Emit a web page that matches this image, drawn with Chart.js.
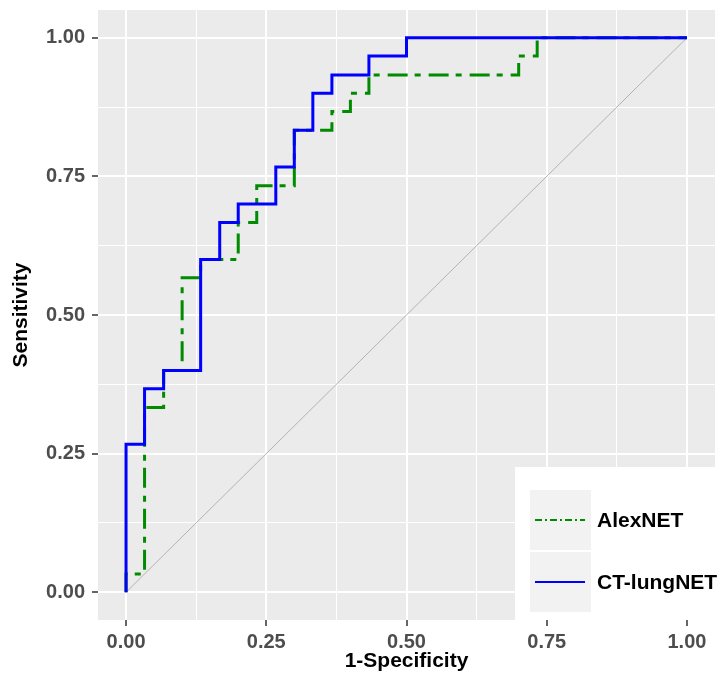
<!DOCTYPE html>
<html>
<head>
<meta charset="utf-8">
<script src="https://cdn.jsdelivr.net/npm/chart.js@4/dist/chart.umd.min.js"></script>
<style>
  body { margin: 0; background: #fff; }
</style>
</head>
<body>
<canvas id="rocChart" width="718" height="683"></canvas>
<script>
// ROC vertices (30 positives / 30 negatives)
const alexFpr = [0, 0, 0.033, 0.033, 0.067, 0.067, 0.1, 0.1, 0.133, 0.133, 0.2, 0.2, 0.233, 0.233, 0.3, 0.3, 0.367, 0.367, 0.4, 0.4, 0.433, 0.433, 0.7, 0.7, 0.733, 0.733, 1];
const alexTpr = [0, 0.033, 0.033, 0.333, 0.333, 0.4, 0.4, 0.567, 0.567, 0.6, 0.6, 0.667, 0.667, 0.733, 0.733, 0.833, 0.833, 0.867, 0.867, 0.9, 0.9, 0.933, 0.933, 0.967, 0.967, 1, 1];

const lungFpr = [0, 0, 0.033, 0.033, 0.067, 0.067, 0.133, 0.133, 0.167, 0.167, 0.2, 0.2, 0.267, 0.267, 0.3, 0.3, 0.333, 0.333, 0.367, 0.367, 0.433, 0.433, 0.5, 0.5, 1];
const lungTpr = [0, 0.267, 0.267, 0.367, 0.367, 0.4, 0.4, 0.6, 0.6, 0.667, 0.667, 0.7, 0.7, 0.767, 0.767, 0.833, 0.833, 0.9, 0.9, 0.933, 0.933, 0.967, 0.967, 1, 1];

const chanceX = [0, 1];
const chanceY = [0, 1];

const majorTicks = [0, 0.25, 0.5, 0.75, 1];
const minorTicks = [0.125, 0.375, 0.625, 0.875];

const seriesNames = ["AlexNET", "CT-lungNET"];
const seriesColors = ["#008B00", "#0000FF"];

const FONT = "'Liberation Sans', Arial, sans-serif";

function toPoints(xs, ys) {
  return xs.map((x, i) => ({ x: x, y: ys[i] }));
}

function isMajor(v) {
  return majorTicks.some(m => Math.abs(m - v) < 1e-9);
}

function setTicks(scale) {
  scale.ticks = majorTicks.concat(minorTicks).sort((a, b) => a - b).map(v => ({ value: v }));
}

// no extra room for edge labels, the panel is fixed
function fixPadding(s) {
  s.paddingTop = 0;
  s.paddingBottom = 0;
  s.paddingLeft = 0;
  s.paddingRight = 0;
}

// grey panel behind the grid
const panelBg = {
  id: "panelBg",
  beforeDraw(chart) {
    const a = chart.chartArea;
    const ctx = chart.ctx;
    ctx.save();
    ctx.fillStyle = "#EBEBEB";
    ctx.fillRect(a.left, a.top, a.right - a.left, a.bottom - a.top);
    ctx.restore();
  }
};

// ggplot style legend sitting inside the panel
const insideLegend = {
  id: "insideLegend",
  afterDraw(chart) {
    const ctx = chart.ctx;
    ctx.save();
    ctx.fillStyle = "#FFFFFF";
    ctx.fillRect(515, 467, 203, 153);

    const rows = [
      { y: 490, dash: [7, 3, 2, 3], width: 2 },
      { y: 552, dash: [], width: 2 }
    ];
    rows.forEach((r, i) => {
      ctx.fillStyle = "#F2F2F2";
      ctx.fillRect(530, r.y, 61, 60);
      ctx.strokeStyle = seriesColors[i];
      ctx.lineWidth = r.width;
      ctx.setLineDash(r.dash);
      ctx.beginPath();
      ctx.moveTo(535, r.y + 30);
      ctx.lineTo(585, r.y + 30);
      ctx.stroke();
      ctx.setLineDash([]);
      ctx.fillStyle = "#000000";
      ctx.font = "bold 21px " + FONT;
      ctx.textBaseline = "middle";
      ctx.textAlign = "left";
      ctx.fillText(seriesNames[i], 597, r.y + 31);
    });
    ctx.restore();
  }
};

const gridOpts = {
  color: "#FFFFFF",
  lineWidth: c => isMajor(c.tick.value) ? 2 : 1,
  tickColor: c => isMajor(c.tick.value) ? "#333333" : "rgba(0,0,0,0)",
  tickWidth: 1.5,
  tickLength: 6
};

const tickOpts = {
  color: "#4D4D4D",
  font: { family: FONT, size: 20, weight: "bold" },
  autoSkip: false,
  maxRotation: 0,
  callback: v => isMajor(v) ? v.toFixed(2) : ""
};

new Chart(document.getElementById("rocChart"), {
  type: "line",
  data: {
    datasets: [
      {
        label: "chance",
        data: toPoints(chanceX, chanceY),
        borderColor: "#B3B3B3",
        borderWidth: 1,
        pointRadius: 0,
        order: 2
      },
      {
        label: seriesNames[0],
        data: toPoints(alexFpr, alexTpr),
        borderColor: seriesColors[0],
        borderWidth: 3,
        borderDash: [20, 7, 6, 8],
        borderCapStyle: "butt",
        pointRadius: 0,
        order: 1
      },
      {
        label: seriesNames[1],
        data: toPoints(lungFpr, lungTpr),
        borderColor: seriesColors[1],
        borderWidth: 3,
        pointRadius: 0,
        order: 0
      }
    ]
  },
  options: {
    responsive: false,
    animation: false,
    layout: { padding: { top: 10, right: 3, left: 0, bottom: 0 } },
    plugins: { legend: { display: false }, tooltip: { enabled: false } },
    elements: { line: { tension: 0 } },
    scales: {
      x: {
        type: "linear",
        min: -0.05,
        max: 1.05,
        afterBuildTicks: setTicks,
        afterFit: s => { s.height = 63; fixPadding(s); },
        grid: gridOpts,
        border: { display: false },
        ticks: Object.assign({ padding: 4 }, tickOpts),
        title: {
          display: true,
          text: "1-Specificity",
          color: "#000000",
          font: { family: FONT, size: 21, weight: "bold" },
          padding: { top: 0, bottom: 9 }
        }
      },
      y: {
        type: "linear",
        min: -0.05,
        max: 1.05,
        afterBuildTicks: setTicks,
        afterFit: s => { s.width = 98; fixPadding(s); },
        grid: gridOpts,
        border: { display: false },
        ticks: Object.assign({ padding: 7 }, tickOpts),
        title: {
          display: true,
          text: "Sensitivity",
          color: "#000000",
          font: { family: FONT, size: 21, weight: "bold" },
          padding: { top: 9, bottom: 0 }
        }
      }
    }
  },
  plugins: [panelBg, insideLegend]
});
</script>
</body>
</html>
